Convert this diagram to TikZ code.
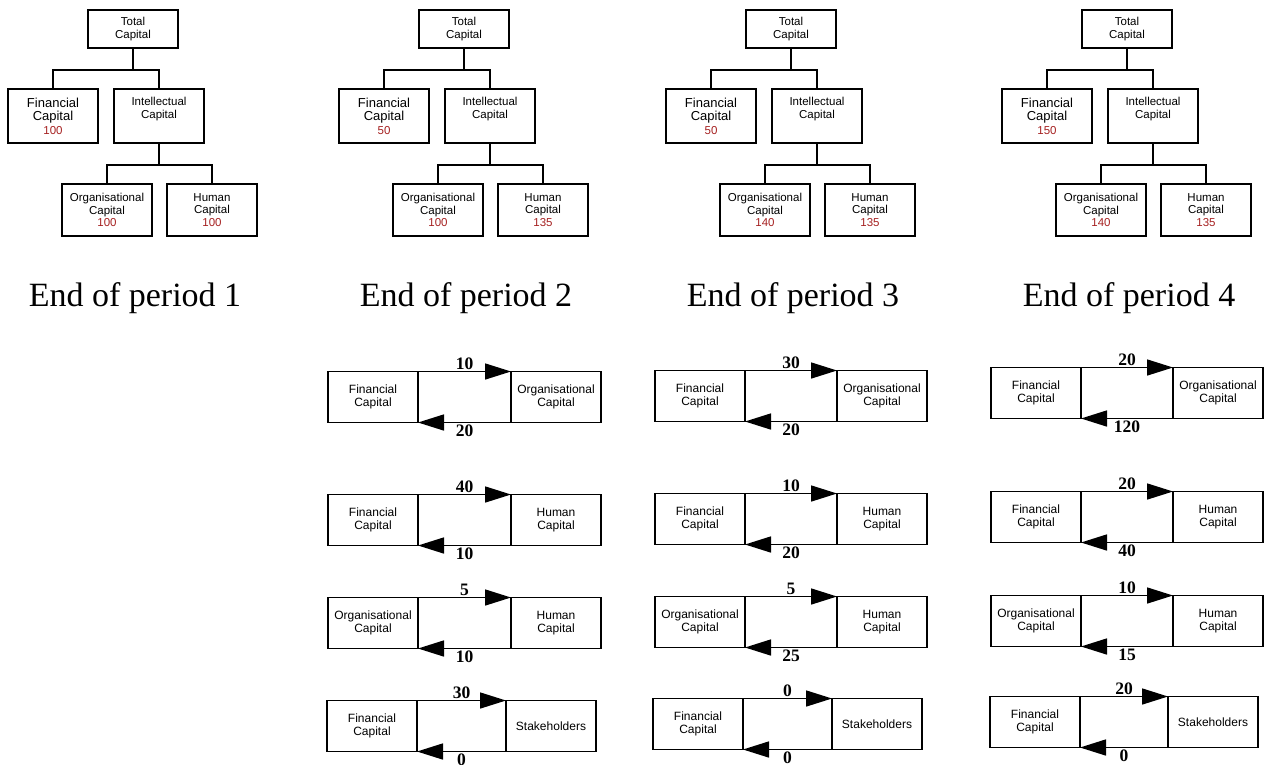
\documentclass[tikz,border=0pt]{standalone}
\usepackage{fontspec}
\setmainfont{Liberation Serif}
\setsansfont{Liberation Sans}
\usetikzlibrary{positioning,arrows.meta}
\definecolor{capred}{RGB}{165,32,32}

\tikzset{
  capbox/.style={draw, line width=2pt, minimum width=90pt, inner sep=0pt, outer sep=0pt,
    align=center, font=\sffamily\fontsize{11.5}{12.5}\selectfont},
  flowbox/.style={draw, line width=1.8pt, minimum width=90pt, minimum height=51pt, inner sep=0pt,
    outer sep=0pt, align=center, font=\sffamily\fontsize{12}{13}\selectfont},
  treeline/.style={line width=2pt},
  flowarrow/.style={line width=1.6pt, -{Triangle[length=26pt,width=16pt]}},
  flownum/.style={font=\bfseries\fontsize{17.5}{18}\selectfont, inner sep=1.5pt},
  period/.style={font=\fontsize{34}{36}\selectfont, anchor=base}
}

\begin{document}
\begin{tikzpicture}[x=1pt,y=-1pt]
  \useasboundingbox (0,0) rectangle (1264,764);
  % one capital tree per period (ID=tot1..tot4)
  \foreach \t/\x/\f/\o/\h in {1/0/100/100/100, 2/331/50/100/135, 3/658/50/140/135, 4/994/150/140/135} {
    \begin{scope}[xshift=\x pt]
      \node[capbox, minimum height=38pt] (tot\t) at (133,29) {Total\\Capital};
      \node[capbox, minimum height=54pt, font=\sffamily\fontsize{13}{13.5}\selectfont] (fin\t) at (53,116)
        {Financial\\Capital\\\textcolor{capred}{\fontsize{11.5}{12}\selectfont\f}};
      \node[capbox, minimum height=54pt] (int\t) at (159,116) {Intellectual\\Capital\\\strut};
      % Now the 2nd level under intellectual capital
      \node[capbox, minimum height=52pt] (org\t) at (107,210)
        {Organisational\\Capital\\\textcolor{capred}{\o}};
      \node[capbox, minimum height=52pt] (hum\t) at (212,210)
        {Human\\Capital\\\textcolor{capred}{\h}};
      % Draw the elbow lines between the levels
      \draw[treeline] (tot\t.south) -- ++(0,22) -| (fin\t.north);
      \draw[treeline] (tot\t.south) -- ++(0,22) -| (int\t.north);
      \draw[treeline] (int\t.south) -- ++(0,22) -| (org\t.north);
      \draw[treeline] (int\t.south) -- ++(0,22) -| (hum\t.north);
      \node[period] (end\t) at (135,306) {End of period \t};
    \end{scope}
  }
  % Now the flows between two capitals (ID=from, to)
  \foreach \n/\x/\y/\l/\r/\p/\q/\g in {
      a/373/397/{Financial\\Capital}/{Organisational\\Capital}/10/20/93pt,
      b/373/520/{Financial\\Capital}/{Human\\Capital}/40/10/93pt,
      c/373/623/{Organisational\\Capital}/{Human\\Capital}/5/10/93pt,
      d/372/726/{Financial\\Capital}/{Stakeholders}/30/0/89pt,
      e/700/396/{Financial\\Capital}/{Organisational\\Capital}/30/20/92pt,
      f/700/519/{Financial\\Capital}/{Human\\Capital}/10/20/92pt,
      g/700/622/{Organisational\\Capital}/{Human\\Capital}/5/25/92pt,
      h/698/724/{Financial\\Capital}/{Stakeholders}/0/0/89pt,
      i/1036/393/{Financial\\Capital}/{Organisational\\Capital}/20/120/92pt,
      j/1036/517/{Financial\\Capital}/{Human\\Capital}/20/40/92pt,
      k/1036/621/{Organisational\\Capital}/{Human\\Capital}/10/15/92pt,
      l/1035/722/{Financial\\Capital}/{Stakeholders}/20/0/88pt} {
    \node[flowbox] (from\n) at (\x,\y) {\l};
    \node[flowbox, right=\g of from\n] (to\n) {\r};
    \draw[flowarrow] (from\n.north east) -- node[flownum, above] {\p} (to\n.north west);
    \draw[flowarrow] (to\n.south west) -- node[flownum, below] {\q} (from\n.south east);
  }
\end{tikzpicture}
\end{document}
